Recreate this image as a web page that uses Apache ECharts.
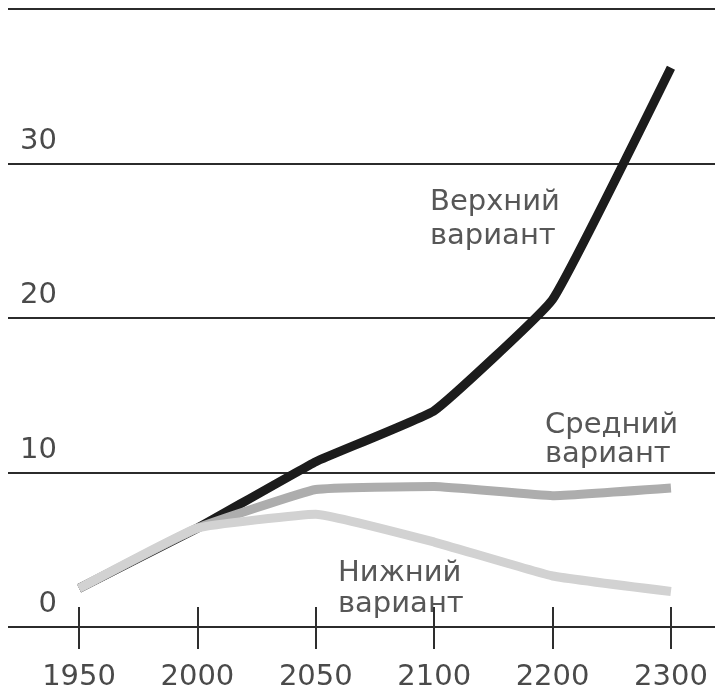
<!DOCTYPE html>
<html>
<head>
<meta charset="utf-8">
<script src="https://cdn.jsdelivr.net/npm/echarts@6/dist/echarts.min.js"></script>
<style>
  html, body { margin: 0; padding: 0; background: #fff; }
  #chart { width: 715px; height: 692px; }
</style>
</head>
<body>
<div id="chart"></div>
<script>
// Population projections (billions) by scenario
const years = ['1950', '2000', '2050', '2100', '2200', '2300'];
const upperVariant = [2.5, 6.4, 10.7, 14.0, 21.2, 36.2];
const middleVariant = [2.5, 6.4, 8.9, 9.1, 8.5, 9.0];
const lowerVariant = [2.5, 6.4, 7.3, 5.5, 3.3, 2.3];
const yTicks = [0, 10, 20, 30, 40];

const FONT = '"DejaVu Sans", "Liberation Sans", sans-serif';
const tickIdx = years.map((_, i) => i);
const toPoints = arr => arr.map((v, i) => [i, v]);

const chart = echarts.init(document.getElementById('chart'), null, { renderer: 'canvas' });

const lineSeries = (name, data, color, z) => ({
  name,
  type: 'line',
  data: toPoints(data),
  showSymbol: false,
  symbol: 'none',
  smooth: 0.1,
  z,
  lineStyle: { color, width: 9, cap: 'butt', join: 'round' },
  emphasis: { disabled: true }
});

const annotation = (lines, left, baselines) => lines.map((t, k) => ({
  type: 'text',
  x: left,
  y: baselines[k] - 10,
  style: {
    text: t,
    fill: '#575757',
    font: '29px ' + FONT,
    textAlign: 'left',
    textVerticalAlign: 'middle'
  }
}));

chart.setOption({
  animation: false,
  backgroundColor: '#ffffff',
  grid: { left: 8, right: 0, top: 9, bottom: 64, containLabel: false },
  xAxis: [
    {
      type: 'value',
      min: -0.6,
      max: 5.372,
      position: 'bottom',
      axisLine: { show: false },
      splitLine: { show: false },
      axisTick: {
        show: true,
        length: 22,
        customValues: tickIdx,
        lineStyle: { color: '#2e2e2e', width: 2 }
      },
      axisLabel: {
        customValues: tickIdx,
        formatter: v => years[Math.round(v)],
        margin: 36,
        color: '#4a4a4a',
        fontFamily: FONT,
        fontSize: 29,
        lineHeight: 29
      }
    },
    {
      type: 'value',
      min: -0.6,
      max: 5.372,
      position: 'bottom',
      axisLine: { show: false },
      splitLine: { show: false },
      axisLabel: { show: false },
      axisTick: {
        show: true,
        inside: true,
        length: 20,
        customValues: tickIdx,
        lineStyle: { color: '#2e2e2e', width: 2 }
      }
    }
  ],
  yAxis: {
    type: 'value',
    min: yTicks[0],
    max: yTicks[yTicks.length - 1],
    interval: 10,
    axisLine: { show: false },
    axisTick: { show: false },
    splitLine: { show: true, lineStyle: { color: '#2b2b2b', width: 2 } },
    axisLabel: {
      inside: true,
      showMaxLabel: false,
      align: 'right',
      verticalAlign: 'bottom',
      margin: 49,
      padding: [0, 0, 8, 0],
      color: '#4a4a4a',
      fontFamily: FONT,
      fontSize: 29,
      lineHeight: 29
    }
  },
  series: [
    lineSeries('Верхний вариант', upperVariant, '#1c1c1c', 2),
    lineSeries('Средний вариант', middleVariant, '#adadad', 3),
    lineSeries('Нижний вариант', lowerVariant, '#d2d2d2', 4)
  ],
  graphic: [
    ...annotation(['Верхний', 'вариант'], 430, [212, 246]),
    ...annotation(['Средний', 'вариант'], 545, [435, 464]),
    ...annotation(['Нижний', 'вариант'], 338, [583, 614])
  ]
});
</script>
</body>
</html>
